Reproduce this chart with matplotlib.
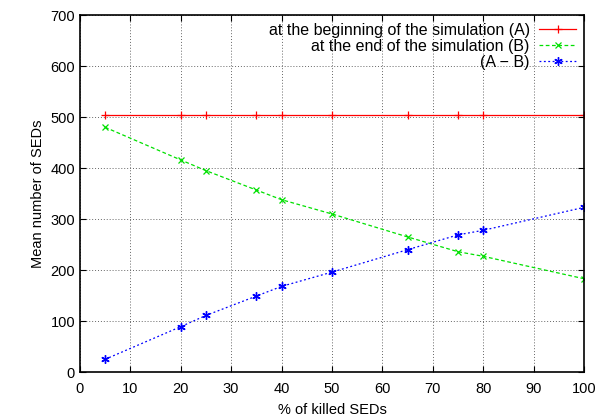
import matplotlib.pyplot as plt
import numpy as np

plt.rcParams['font.family'] = ['Liberation Sans', 'DejaVu Sans']

killed = [5, 20, 25, 35, 40, 50, 65, 75, 80, 100]
seds_begin = [505, 505, 505, 505, 505, 505, 505, 505, 505, 505]
seds_end = [480, 416, 395, 357, 338, 310, 265, 236, 227, 183]
seds_diff = [25, 89, 111, 149, 168, 196, 240, 269, 278, 323]

fig = plt.figure(figsize=(5.96, 4.19), dpi=100)
ax = fig.add_axes([0.134, 0.112, 0.846, 0.852])

ax.plot(killed, seds_begin, color="#ff0000", lw=0.9, marker="+", ms=6, mew=0.9,
        label="at the beginning of the simulation (A)")
ax.plot(killed, seds_end, color="#00e000", lw=0.9, ls=(0, (3, 2)), marker="x", ms=5, mew=0.9,
        label="at the end of the simulation (B)")
ax.plot(killed, seds_diff, color="#0000ff", lw=0.9, ls=(0, (1.5, 2)), marker=(6, 2, 0), ms=6, mew=1.0,
        label="(A \u2212 B)")

ax.set_xlim(0, 100)
ax.set_ylim(0, 700)
ax.set_xticks(np.arange(0, 101, 10))
ax.set_yticks(np.arange(0, 701, 100))
ax.grid(True, color="#666666", ls=(0, (1, 2)), lw=0.7)
ax.tick_params(direction="in", top=True, right=True, length=4, labelsize=10.5)
ax.tick_params(axis="x", pad=7)
for s in ax.spines.values():
    s.set_linewidth(1.2)

ax.set_xlabel("% of killed SEDs", fontsize=10.5, labelpad=5)
ax.set_ylabel("Mean number of SEDs", fontsize=10.5)

ax.legend(loc="upper right", frameon=False, markerfirst=False, fontsize=11.5,
          handlelength=2.3, labelspacing=0.05, borderaxespad=0.1, handletextpad=0.6)

fig.savefig("out.png", dpi=100)
